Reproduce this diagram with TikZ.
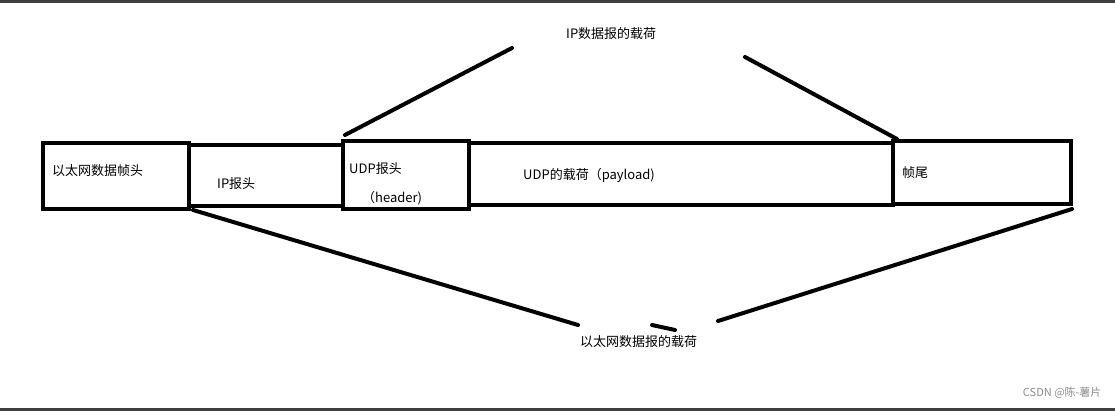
\documentclass[tikz,border=0pt]{standalone}
\usepackage{fontspec}
\setmainfont{Liberation Sans}
\newfontfamily\cjk{Noto Sans CJK SC}
\begin{document}
\begin{tikzpicture}[x=1pt,y=-1pt,
  bx/.style={draw=black,line width=4pt},
  ln/.style={line width=4pt,line cap=round},
  lb/.style={font=\cjk\fontsize{13}{15}\selectfont,inner sep=0pt,anchor=west}]
\fill[white] (0,0) rectangle (1115,411);
\useasboundingbox (0,0) rectangle (1115,411);
\fill[black!75] (0,0) rectangle (1115,3);
\fill[black!75] (0,408) rectangle (1115,411);
\draw[bx] (43,143) rectangle (189,209);
\draw[bx] (189,145) rectangle (343,206);
\draw[bx] (343,141) rectangle (469,209);
\draw[bx] (469,143) rectangle (893,205);
\draw[bx] (893,141) rectangle (1071,204);
\node[lb] (t1) at (52,171) {以太网数据帧头};
\node[lb] (t2) at (217,184) {IP报头};
\node[lb] (t3) at (349,169) {UDP报头};
\node[lb] (t3b) at (362,198) {（header)};
\node[lb] (t4) at (523,175) {UDP的载荷（payload)};
\node[lb] (t5) at (902,173) {帧尾};
\node[lb] (top) at (566,34) {IP数据报的载荷};
\node[lb] (bot) at (580,342) {以太网数据报的载荷};
\coordinate (a1) at (345,135); \coordinate (a2) at (512,48);
\coordinate (b1) at (745,57); \coordinate (b2) at (897,139);
\coordinate (c1) at (193,210); \coordinate (c2) at (578,325);
\coordinate (d1) at (652,325); \coordinate (d2) at (675,330);
\coordinate (e1) at (718,321); \coordinate (e2) at (1072,209);
\draw[ln] (a1) -- (a2);
\draw[ln] (b1) -- (b2);
\draw[ln] (c1) -- (c2);
\draw[ln] (d1) -- (d2);
\draw[ln] (e1) -- (e2);
\node[anchor=east,font=\cjk\fontsize{11}{13}\selectfont,text=black!45] (wm) at (1105,393) {CSDN @陈-薯片};
\end{tikzpicture}
\end{document}
